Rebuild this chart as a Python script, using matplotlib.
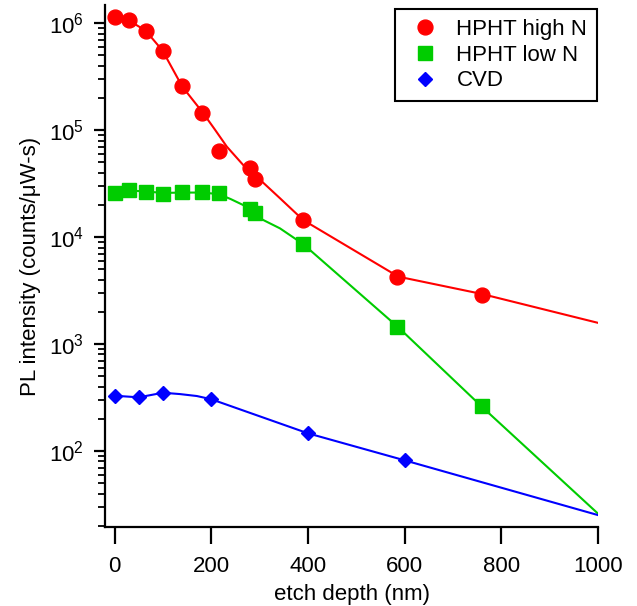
import matplotlib
matplotlib.use("Agg")
import matplotlib.pyplot as plt

plt.rcParams['font.family'] = ['Liberation Sans', 'DejaVu Sans']
plt.rcParams['mathtext.fontset'] = 'custom'
plt.rcParams['mathtext.rm'] = 'Liberation Sans'
plt.rcParams['mathtext.default'] = 'regular'

# measured points
high_x = [0, 30, 65, 100, 140, 180, 215, 280, 290, 390, 585, 760]
high_y = [1.14e6, 1.07e6, 8.5e5, 5.5e5, 2.6e5, 1.46e5, 6.4e4, 4.47e4, 3.5e4, 1.45e4, 4.2e3, 2.9e3]
low_x = [0, 30, 65, 100, 140, 180, 215, 280, 290, 390, 585, 760]
low_y = [2.58e4, 2.77e4, 2.67e4, 2.54e4, 2.64e4, 2.64e4, 2.58e4, 1.83e4, 1.68e4, 8.6e3, 1.43e3, 261]
cvd_x = [0, 50, 100, 200, 400, 600]
cvd_y = [327, 318, 351, 306, 146, 82]

# fitted / guide curves
high_fit_x = [0, 30, 64, 99, 140, 182, 207, 232, 266, 294, 342, 390, 587, 760, 1000]
high_fit_y = [1.12e6, 1.057e6, 8.53e5, 5.55e5, 2.55e5, 1.466e5, 1.019e5, 7.02e4, 4.72e4, 3.67e4,
              2.31e4, 1.445e4, 4270, 2940, 1580]
low_fit_x = [0, 30, 65, 100, 140, 180, 215, 240, 266, 294, 342, 390, 588, 760, 1000]
low_fit_y = [2.58e4, 2.73e4, 2.67e4, 2.59e4, 2.61e4, 2.61e4, 2.53e4, 2.27e4, 1.995e4, 1.55e4,
             1.208e4, 8610, 1419, 259, 26]
cvd_fit_x = [0, 50, 100, 135, 170, 200, 400, 600, 1000]
cvd_fit_y = [329, 318, 351, 341, 327, 305, 146.5, 81.9, 25.2]

series = ['HPHT high N', 'HPHT low N', 'CVD']
RED, GREEN, BLUE = '#FF0000', '#00CC00', '#0000FF'

W, H = 637, 606
fig = plt.figure(figsize=(W / 100, H / 100), dpi=100)
ax = fig.add_axes([105 / W, 1 - 527 / H, (598 - 105) / W, (527 - 5) / H])

lw = 1.5
ax.plot(high_fit_x, high_fit_y, color=RED, lw=lw, zorder=2)
ax.plot(low_fit_x, low_fit_y, color=GREEN, lw=lw, zorder=2)
ax.plot(cvd_fit_x, cvd_fit_y, color=BLUE, lw=lw, zorder=2)

ax.plot(high_x, high_y, ls='none', marker='o', ms=10.7, color=RED, mec=RED, label=series[0], zorder=3)
ax.plot(low_x, low_y, ls='none', marker='s', ms=10, color=GREEN, mec=GREEN, label=series[1], zorder=3)
ax.plot(cvd_x, cvd_y, ls='none', marker='D', ms=7, color=BLUE, mec=BLUE, label=series[2], zorder=3)

ax.set_yscale('log')
ax.set_xlim(-20, 1000)
ax.set_ylim(19.5, 1.48e6)
ax.set_xticks([0, 200, 400, 600, 800, 1000])
ax.set_xticklabels(['0', '200', '400', '600', '800', '1000'])
ax.set_yticks([1e2, 1e3, 1e4, 1e5, 1e6])
ax.set_yticklabels(['10$^{2}$', '10$^{3}$', '10$^{4}$', '10$^{5}$', '10$^{6}$'])

for s in ['top', 'right']:
    ax.spines[s].set_visible(False)
for s in ['left', 'bottom']:
    ax.spines[s].set_linewidth(1.6)

FS = 16
ax.tick_params(axis='x', which='major', direction='out', length=12, width=1.6, labelsize=FS, pad=9)
ax.tick_params(axis='x', which='minor', bottom=False)
ax.tick_params(axis='y', which='major', direction='out', length=8, width=1.6, labelsize=FS, pad=7)
ax.tick_params(axis='y', which='minor', direction='out', length=5, width=1.3)

ax.set_xlabel('etch depth (nm)', fontsize=FS, labelpad=5)
ax.set_ylabel('PL intensity (counts/\u03bcW-s)', fontsize=FS, labelpad=6)

leg = ax.legend(loc='upper right', bbox_to_anchor=(596.7 / W, 1 - 9.3 / H),
                bbox_transform=fig.transFigure, borderaxespad=0, fontsize=FS,
                frameon=True, fancybox=False, framealpha=1, edgecolor='black',
                handlelength=1.92, handletextpad=0.44, borderpad=0.42, labelspacing=0.22)
leg.get_frame().set_linewidth(1.5)

fig.savefig('out.png', dpi=100)
